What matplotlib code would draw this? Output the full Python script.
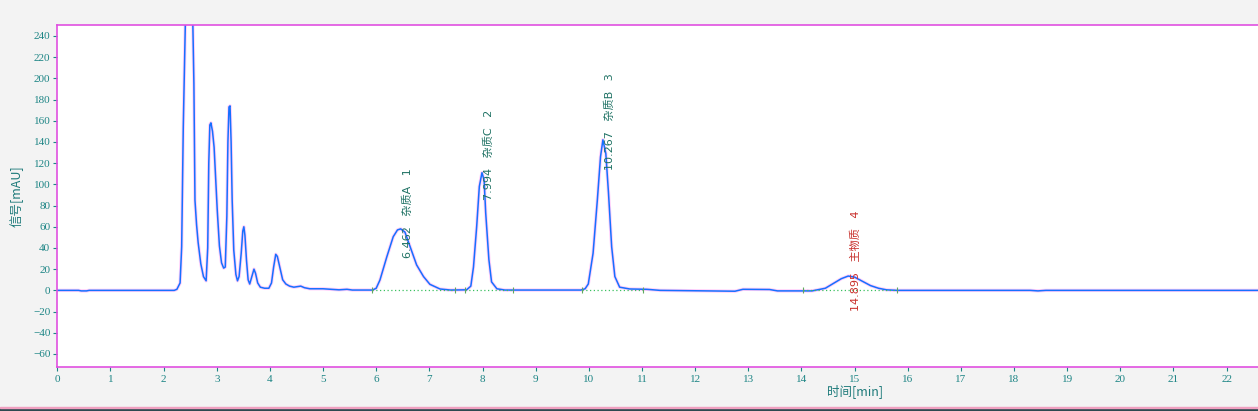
import matplotlib
matplotlib.use("Agg")
import matplotlib.pyplot as plt
from matplotlib.patches import Rectangle

# ---- data ----
time_min = [0.0, 0.40, 0.45, 0.55, 0.60, 2.20, 2.25, 2.31, 2.34, 2.37, 2.42, 2.48, 2.54,
            2.57, 2.59, 2.62, 2.65, 2.70, 2.75, 2.80, 2.83, 2.85, 2.87, 2.89, 2.92, 2.95,
            2.98, 3.01, 3.05, 3.09, 3.13, 3.16, 3.19, 3.21, 3.23, 3.25, 3.27, 3.29, 3.32,
            3.36, 3.39, 3.42, 3.46, 3.49, 3.51, 3.53, 3.56, 3.59, 3.62, 3.66, 3.70, 3.73,
            3.77, 3.82, 3.90, 3.98, 4.03, 4.07, 4.11, 4.14, 4.19, 4.24, 4.30, 4.37, 4.45,
            4.52, 4.58, 4.65, 4.75, 5.00, 5.30, 5.45, 5.55, 5.93, 6.00, 6.07, 6.20, 6.32,
            6.40, 6.46, 6.54, 6.64, 6.76, 6.89, 7.01, 7.20, 7.40, 7.70, 7.78, 7.83, 7.89,
            7.94, 7.99, 8.03, 8.06, 8.12, 8.17, 8.27, 8.42, 9.85, 9.93, 9.99, 10.08, 10.16,
            10.22, 10.265, 10.32, 10.37, 10.43, 10.49, 10.58, 10.77, 11.09, 11.34, 12.30,
            12.75, 12.90, 13.40, 13.55, 14.20, 14.30, 14.45, 14.60, 14.75, 14.88, 15.00,
            15.15, 15.30, 15.45, 15.60, 15.80, 18.30, 18.45, 18.60, 22.60]
signal_mau = [0, 0, -0.5, -0.5, 0, 0, 1, 7, 41, 154, 280, 330, 280,
              195, 85, 62, 45, 25, 13, 9, 40, 120, 156, 158, 150, 135,
              105, 75, 42, 26, 21, 22, 70, 140, 173, 174, 140, 85, 38,
              15, 9, 13, 35, 56, 60, 52, 28, 10, 6, 13, 20, 16,
              7, 3, 2, 2, 7, 22, 34, 32, 21, 10, 6, 4, 3,
              3.5, 4, 2.5, 1.5, 1.5, 0.5, 1, 0.3, 0.3, 2, 9.7, 31.7, 50.6,
              57, 58, 55, 41, 24, 13, 5.7, 1.3, 0.3, 0.5, 4, 22, 60,
              98, 111, 104, 73, 29, 8, 1.5, 0.3, 0.3, 1.5, 6, 35, 85,
              126, 142, 129, 92, 41, 13, 3, 1.3, 1, 0, -0.5,
              -0.8, 1, 0.8, -0.5, -0.5, 0.5, 2, 6.5, 11, 13.5, 12.5,
              8.5, 4.5, 2, 0.5, 0, 0, -0.5, 0, 0]

peak_times = [6.462, 7.994, 10.267, 14.895]
peak_names = ["杂质A", "杂质C", "杂质B", "主物质"]
peak_ids = [1, 2, 3, 4]
peak_starts = [5.93, 7.67, 9.87, 14.03]
peak_ends = [7.49, 8.58, 11.02, 15.80]

x_ticks = list(range(0, 23))
y_ticks = list(range(-60, 241, 20))

# ---- layout / style ----
label_bottoms = [30.5, 85, 113.5, -19]
label_colors = ["#1f7264", "#1f7264", "#1f7264", "#c8302c"]
teal = "#1d8585"
frame = "#e050e0"

fig = plt.figure(figsize=(12.58, 4.11), dpi=100, facecolor="#f3f3f3")
ax = fig.add_axes([57.3 / 1258, (411 - 366.7) / 411, 1 - 57.3 / 1258, (366.7 - 25) / 411])
ax.set_facecolor("white")

ax.plot(time_min, signal_mau, color="#ff9ff5", lw=2.4, alpha=0.5, solid_joinstyle="round")
ax.plot(time_min, signal_mau, color="#1670ff", lw=1.1, solid_joinstyle="round")

for s, e in zip(peak_starts, peak_ends):
    ax.plot([s, e], [0, 0], color="#3cc060", lw=0.9, ls=(0, (1, 2)))
    ax.plot([s, e], [0, 0], ls="none", marker="|", ms=5, color="#60a860", mew=0.8)

for t, name, pid, yb, c in zip(peak_times, peak_names, peak_ids, label_bottoms, label_colors):
    ax.text(t + 0.13, yb, f"{t:.3f}   {name}   {pid}", rotation=90, ha="center", va="bottom",
            fontsize=8, color=c, family=["DejaVu Sans", "Noto Sans CJK SC"])

ax.set_xlim(0, 22.59)
ax.set_ylim(-72, 250.3)
ax.set_xticks(x_ticks)
ax.set_yticks(y_ticks)
ax.tick_params(axis="both", direction="out", length=3, width=0.8, color=teal,
               labelcolor=teal, labelsize=8)
ax.tick_params(axis="x", pad=3)
ax.tick_params(axis="y", pad=2)
for lab in ax.get_xticklabels() + ax.get_yticklabels():
    lab.set_family("Liberation Serif")

for side in ["left", "top", "bottom"]:
    ax.spines[side].set_color(frame)
    ax.spines[side].set_linewidth(1.2)
ax.spines["right"].set_visible(False)

ax.set_ylabel("信号[mAU]", fontsize=9, color="#1d7a7a", family=["Noto Sans CJK SC", "DejaVu Sans"])
ax.yaxis.set_label_coords(-0.028, 0.5)
ax.set_xlabel("时间[min]", fontsize=9, color="#1d7a7a", family=["Noto Sans CJK SC", "DejaVu Sans"])
ax.xaxis.set_label_coords((855 - 57.3) / (1258 - 57.3), -0.071)
ax.xaxis.label.set_va("center")

fig.patches.append(Rectangle((0, 0), 1, 3 / 411, transform=fig.transFigure,
                             color="#2c4a50", zorder=0))
fig.patches.append(Rectangle((0, 3 / 411), 1, 1.5 / 411, transform=fig.transFigure,
                             color="#f0a0c0", zorder=0))

fig.savefig("out.png", dpi=100, facecolor=fig.get_facecolor())
